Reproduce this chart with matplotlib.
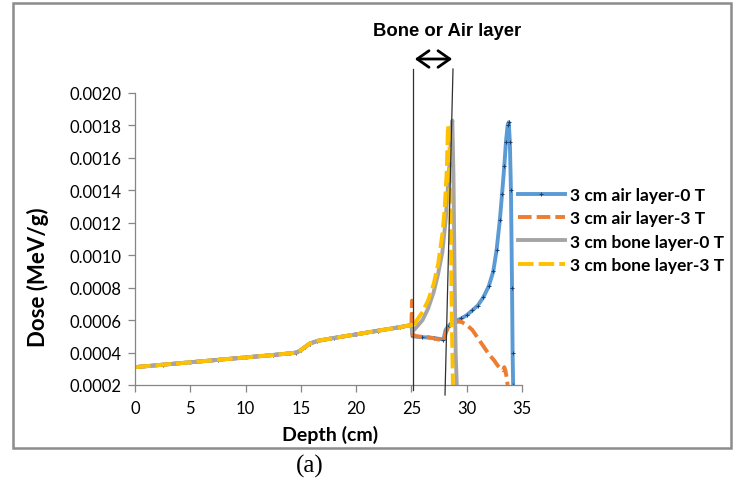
import matplotlib
matplotlib.use("Agg")
import matplotlib.pyplot as plt
from matplotlib.lines import Line2D
from matplotlib.patches import Rectangle, FancyArrowPatch
from matplotlib.ticker import FormatStrFormatter

# ---- data ----
base_depth = [0, 2.5, 5, 7.5, 10, 12.5, 14.0, 14.6, 15.0, 15.4, 15.8, 16.5, 18, 20, 22, 24]
base_dose = [0.00031, 0.000325, 0.00034, 0.000355, 0.00037, 0.000385, 0.000395, 0.0004,
             0.000415, 0.000435, 0.000455, 0.000472, 0.00049, 0.000512, 0.000535, 0.000557]

air0_depth = [25.0, 25.1, 26.0, 27.0, 27.9, 28.1, 28.3, 28.6, 29.0, 29.5, 30.0, 30.5,
              31.0, 31.5, 32.0, 32.4, 32.7, 33.0, 33.2, 33.4, 33.55, 33.7, 33.8,
              33.9, 34.0, 34.1, 34.15, 34.2]
air0_dose = [0.00057, 0.0005, 0.000495, 0.00049, 0.00048, 0.00054, 0.00056, 0.00058,
             0.000595, 0.00061, 0.00063, 0.00066, 0.00069, 0.00074, 0.00081, 0.0009,
             0.00103, 0.00122, 0.00138, 0.00155, 0.0017, 0.0018, 0.00182,
             0.0017, 0.0014, 0.0008, 0.0004, 0.0002]

air3_depth = [25.0, 25.05, 25.1, 25.5, 26.5, 27.5, 27.9, 28.1, 28.4, 29.0, 29.5, 30.0,
              30.5, 31.0, 31.5, 32.0, 32.5, 32.8, 33.1, 33.3, 33.4, 33.5, 33.6, 33.7]
air3_dose = [0.00057, 0.00072, 0.00051, 0.0005, 0.000495, 0.00048, 0.00047, 0.00052,
             0.00057, 0.00059, 0.00059, 0.00057, 0.00054, 0.00049, 0.00044, 0.00039,
             0.00035, 0.00032, 0.0003, 0.00029, 0.00031, 0.00029, 0.00025, 0.0002]

bone0_depth = [25.0, 25.1, 25.5, 26.0, 26.5, 27.0, 27.4, 27.8, 28.1, 28.3, 28.5, 28.65,
               28.7, 28.8, 28.9, 29.0, 29.1]
bone0_dose = [0.00057, 0.00053, 0.00056, 0.0006, 0.00067, 0.00077, 0.00088, 0.00102,
              0.00122, 0.00142, 0.00162, 0.0018, 0.00183, 0.0015, 0.0009, 0.0004, 0.0002]

bone3_depth = [25.0, 25.1, 25.5, 26.0, 26.5, 27.0, 27.4, 27.8, 28.0, 28.2, 28.3, 28.45,
               28.55, 28.65, 28.75]
bone3_dose = [0.00057, 0.00055, 0.0006, 0.00065, 0.00072, 0.00082, 0.00094, 0.00113,
              0.00128, 0.00153, 0.0018, 0.0017, 0.0012, 0.0006, 0.0002]

labels = ["3 cm air layer-0 T", "3 cm air layer-3 T",
          "3 cm bone layer-0 T", "3 cm bone layer-3 T"]
colors = ["#5B9BD5", "#ED7D31", "#A5A5A5", "#FFC000"]
x_ticks = [0, 5, 10, 15, 20, 25, 30, 35]
y_ticks = [0.0002, 0.0004, 0.0006, 0.0008, 0.0010, 0.0012, 0.0014, 0.0016, 0.0018, 0.0020]

W, H = 733, 481
fig = plt.figure(figsize=(W / 100, H / 100), dpi=100)
plt.rcParams['font.family'] = ['Lato', 'DejaVu Sans']


def fx(px):
    return px / W


def fy(py):
    return 1 - py / H


# outer border
fig.add_artist(Rectangle((fx(13), fy(449)), fx(731) - fx(13), fy(4) - fy(449),
                         transform=fig.transFigure, fill=False, edgecolor="#8c8c8c",
                         linewidth=1.8))

ax = fig.add_axes([fx(135), fy(386), fx(522) - fx(135), fy(94) - fy(386)])

series = [
    (air0_depth, air0_dose, dict(linestyle='-', marker='+', markersize=2.5,
                                 markeredgecolor='#1F3F6E', markeredgewidth=0.7)),
    (air3_depth, air3_dose, dict(linestyle=(0, (3.5, 1.3)))),
    (bone0_depth, bone0_dose, dict(linestyle='-')),
    (bone3_depth, bone3_dose, dict(linestyle=(0, (4, 1.3)))),
]
for (d, v, st), lab, c in zip(series, labels, colors):
    ax.plot(base_depth + d, base_dose + v, color=c, linewidth=2.8, label=lab, **st)

ax.set_xlim(0, 35)
ax.set_ylim(0.0002, 0.0020)
ax.set_xticks(x_ticks)
ax.set_yticks(y_ticks)
ax.yaxis.set_major_formatter(FormatStrFormatter('%.4f'))
for s in ['top', 'right']:
    ax.spines[s].set_visible(False)
for s in ['left', 'bottom']:
    ax.spines[s].set_color('#868686')
    ax.spines[s].set_linewidth(0.9)
ax.tick_params(axis='both', direction='out', length=5, width=0.9, color='#868686',
               labelsize=12, labelcolor='#000000')
ax.tick_params(axis='x', pad=6)
ax.tick_params(axis='y', pad=5)
ax.set_xlabel("Depth (cm)", fontsize=14, fontweight='bold')
ax.set_ylabel("Dose (MeV/g)", fontsize=16, fontweight='bold')
ax.xaxis.set_label_coords(fx(330), fy(426), transform=fig.transFigure)
ax.yaxis.set_label_coords(fx(49), fy(277), transform=fig.transFigure)

# legend
leg = ax.legend(loc='upper left', bbox_to_anchor=(fx(511), fy(181)),
                bbox_transform=fig.transFigure, frameon=False,
                prop={'weight': 'bold', 'size': 12.5}, handlelength=2.7,
                handletextpad=0.3, labelspacing=0.42, borderaxespad=0)

# annotation lines
fig.add_artist(Line2D([fx(413), fx(413)], [fy(70), fy(391)], transform=fig.transFigure,
                      color='#303030', linewidth=0.9))
fig.add_artist(Line2D([fx(453), fx(445)], [fy(70), fy(396)], transform=fig.transFigure,
                      color='#303030', linewidth=0.9))
fig.add_artist(FancyArrowPatch((fx(412), fy(60)), (fx(455), fy(60)),
                               transform=fig.transFigure,
                               arrowstyle='<->,head_length=5,head_width=3.5',
                               color='black', linewidth=2, mutation_scale=1.7))
fig.text(fx(447), fy(32), "Bone or Air layer", ha='center', va='center',
         fontsize=13.3, fontweight='bold', family=['Liberation Sans', 'DejaVu Sans'])

fig.text(fx(310), fy(466), "(a)", ha='center', va='center', fontsize=18,
         family=['Liberation Serif', 'DejaVu Serif'])

fig.savefig("out.png", dpi=100)
